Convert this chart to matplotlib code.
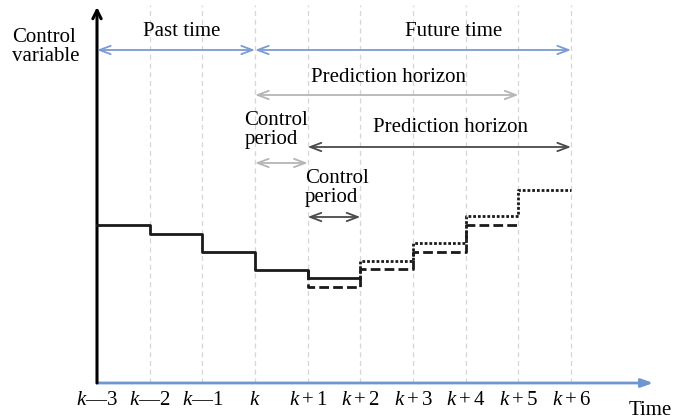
import matplotlib
matplotlib.use("Agg")
import matplotlib.pyplot as plt

plt.rcParams['font.family'] = ['Liberation Serif', 'DejaVu Serif']
plt.rcParams['mathtext.fontset'] = 'custom'
plt.rcParams['mathtext.it'] = 'Liberation Serif:italic'
plt.rcParams['mathtext.rm'] = 'Liberation Serif'

# time steps k-3 ... k+6 -> 0 ... 9
tick_labels = ["$k$—3", "$k$—2", "$k$—1", "$k$", "$k+1$", "$k+2$",
               "$k+3$", "$k+4$", "$k+5$", "$k+6$"]

# past / applied control (solid)
solid_x = [0, 1, 2, 3, 4, 5]
solid_y = [158, 149, 131, 113, 105, 105]
# prediction made at k+1 (dashed)
dashed_x = [4, 4, 5, 6, 7, 8]
dashed_y = [113, 96, 114, 131, 158, 158]
# prediction made at k+2 (dotted)
dotted_x = [5, 5, 6, 7, 8, 9]
dotted_y = [105, 122, 140, 167, 193, 193]

fig = plt.figure(figsize=(6.96, 4.19), dpi=100)
ax = fig.add_axes([0, 0, 1, 1])
px = 52.67
ax.set_xlim(-97 / px, (696 - 97) / px)
ax.set_ylim(-36, 383)
ax.axis('off')

# vertical guide lines
for i in range(1, 10):
    ax.plot([i, i], [0, 378], color='#d4d6de', lw=0.9, ls=(0, (4, 3)), zorder=1)

# axes
ax.annotate('', xy=(10.56, 0), xytext=(0, 0),
            arrowprops=dict(arrowstyle='-|>,head_length=0.7,head_width=0.25',
                            color='#6f96cf', lw=2.0, shrinkA=0, shrinkB=0))
ax.annotate('', xy=(0, 376), xytext=(0, 0),
            arrowprops=dict(arrowstyle='->,head_length=0.6,head_width=0.3',
                            color='black', lw=2.2, shrinkA=0, shrinkB=0))

# control signals
ax.step(solid_x, solid_y, where='post', color='#1a1a1a', lw=2.0, zorder=3)
ax.step(dashed_x, dashed_y, where='post', color='#1a1a1a', lw=2.0,
        ls=(0, (3.5, 1.5)), zorder=3)
ax.step(dotted_x, dotted_y, where='post', color='#1a1a1a', lw=2.0,
        ls=(0, (1, 0.7)), zorder=3)


def harrow(x0, x1, y, color, lw=1.3):
    ax.annotate('', xy=(x1, y), xytext=(x0, y),
                arrowprops=dict(arrowstyle='<->,head_length=0.8,head_width=0.3',
                                color=color, lw=lw, shrinkA=0, shrinkB=0))


blue = '#7b9bd3'
light = '#b5b5b5'
dark = '#4a4a4a'
harrow(0, 3, 333, blue)
harrow(3, 9, 333, blue)
harrow(3, 8, 288, light)
harrow(4, 9, 236, dark)
harrow(3, 4, 220, light)
harrow(4, 5, 166, dark)

fs = 15
ax.text(-1.62, 336, "Control\nvariable", fontsize=fs, ha='left', va='center',
        linespacing=1.0)
ax.text(1.61, 351, "Past time", fontsize=fs, ha='center', va='center')
ax.text(6.78, 351, "Future time", fontsize=fs, ha='center', va='center')
ax.text(5.54, 306, "Prediction horizon", fontsize=fs, ha='center', va='center')
ax.text(6.72, 255, "Prediction horizon", fontsize=fs, ha='center', va='center')
ax.text(2.80, 253, "Control\nperiod", fontsize=fs, ha='left', va='center',
        linespacing=1.0)
ax.text(3.95, 195, "Control\nperiod", fontsize=fs, ha='left', va='center',
        linespacing=1.0)

for i, lab in enumerate(tick_labels):
    ax.text(i, -17, lab, fontsize=fs, ha='center', va='center')
ax.text(10.5, -27, "Time", fontsize=fs, ha='center', va='center')

fig.savefig("out.png", dpi=100)
